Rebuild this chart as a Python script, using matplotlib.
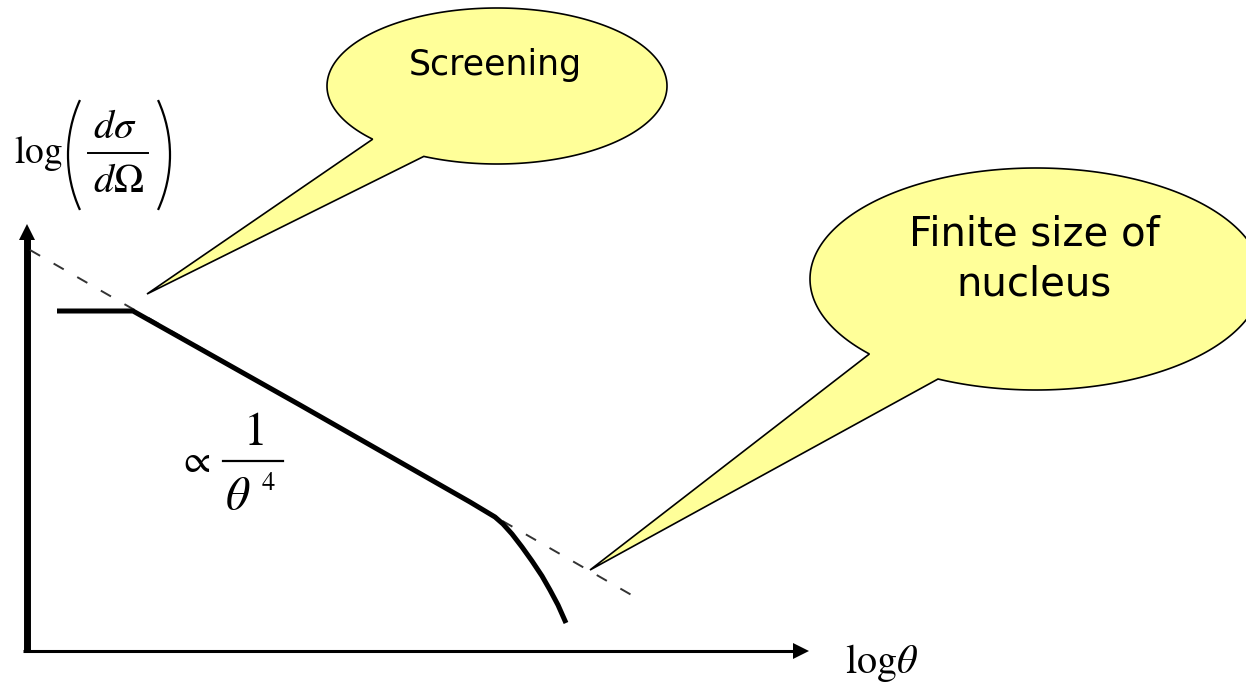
import numpy as np
import matplotlib
matplotlib.use("Agg")
import matplotlib.pyplot as plt
from matplotlib.path import Path
from matplotlib.patches import PathPatch, Arc

plt.rcParams["mathtext.fontset"] = "stix"

# ─── Sketch data (canvas units, y grows downward) ───────────────────────
# screened plateau + Rutherford 1/theta^4 fall + finite-size cut-off
curve_x = [57, 133, 300, 470, 485, 495, 503, 512, 522, 532, 542, 550, 558, 566]
curve_y = [311, 311, 405, 502, 511, 517, 524, 534, 547, 561, 576, 590, 605, 623]

# pure point-charge extrapolation (dashed)
rutherford_x = [30, 642]
rutherford_y = [250, 601]

W, H = 1246, 686
YELLOW = "#ffff99"


def callout(ax, cx, cy, a, b, t_lo, t_hi, tip, lines):
    """Elliptical speech bubble; the tail leaves the rim between t_lo and t_hi (deg)."""
    t = np.deg2rad(np.linspace(t_hi, t_lo + 360, 300))
    pts = np.column_stack([cx + a * np.cos(t), cy + b * np.sin(t)])
    pts = np.vstack([pts, tip, pts[0]])
    codes = [Path.MOVETO] + [Path.LINETO] * (len(pts) - 2) + [Path.CLOSEPOLY]
    ax.add_patch(PathPatch(Path(pts, codes), facecolor=YELLOW,
                           edgecolor="black", linewidth=1.2, zorder=5))
    for text, y, fs in lines:
        ax.text(cx - 2, y, text, ha="center", va="baseline", fontsize=fs,
                family="DejaVu Sans", zorder=6)


fig = plt.figure(figsize=(W / 100, H / 100), dpi=100)
ax = fig.add_axes([0, 0, 1, 1])
ax.set_xlim(0, W)
ax.set_ylim(H, 0)
ax.axis("off")

# axes of the sketch
ax.plot([26.5, 26.5], [652, 232], color="black", lw=5, solid_capstyle="butt")
ax.plot([26.5], [232], marker="^", ms=11, color="black", mew=0)
ax.plot([23, 800], [651, 651], color="black", lw=2.2, solid_capstyle="butt")
ax.plot([801], [651], marker=">", ms=12, color="black", mew=0)

# dashed 1/theta^4 line and the real cross-section
ax.plot(rutherford_x, rutherford_y, color="#333333", lw=1.4,
        linestyle=(0, (6, 8)))
ax.plot(curve_x, curve_y, color="black", lw=3.6, solid_joinstyle="round",
        solid_capstyle="butt")

# y label: log( dsigma / dOmega )
ax.text(14, 163, r"$\mathrm{log}$", ha="left", va="baseline", fontsize=27)
ax.add_patch(Arc((200, 155), 264, 264, theta1=155.4, theta2=204.6,
                 color="black", lw=1.6))
ax.add_patch(Arc((38, 155), 264, 264, theta1=-24.6, theta2=24.6,
                 color="black", lw=1.6))
ax.text(115, 138, r"$d\sigma$", ha="center", va="baseline", fontsize=29)
ax.plot([88, 148], [153, 153], color="black", lw=1.4)
ax.text(118, 192, r"$d\Omega$", ha="center", va="baseline", fontsize=29)

# x label
ax.text(845, 673, r"$\mathrm{log}\theta$", ha="left", va="baseline",
        fontsize=29)

# proportionality label on the power-law segment
ax.text(178, 461, r"$\propto$", ha="left", va="center", fontsize=28)
ax.text(253, 445, r"$1$", ha="center", va="baseline", fontsize=34)
ax.plot([223, 283], [461, 461], color="black", lw=1.6)
ax.text(225, 509, r"$\theta$", ha="left", va="baseline", fontsize=34)
ax.text(261, 490, r"$4$", ha="left", va="baseline", fontsize=19)

# speech bubbles
callout(ax, 497, 86, 170, 78, 115.5, 137, (147, 294),
        [("Screening", 75, 25)])
callout(ax, 1036, 279, 226, 111, 115.7, 137.5, (590, 570),
        [("Finite size of", 245, 29), ("nucleus", 295, 29)])

fig.savefig("out.png", dpi=100)
